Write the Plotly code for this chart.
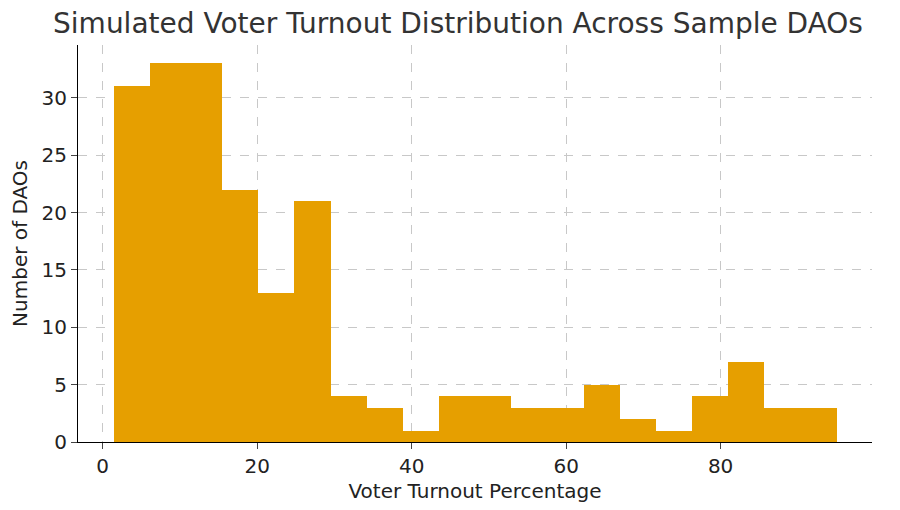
import plotly.graph_objects as go

counts = [31,33,33,22,13,21,4,3,1,4,4,3,3,5,2,1,4,7,3,3]
bin_start = 1.42
bin_width = 4.68
edges = [bin_start + i*bin_width for i in range(len(counts)+1)]
centers = [(edges[i]+edges[i+1])/2 for i in range(len(counts))]

fig = go.Figure(go.Bar(x=centers, y=counts, width=bin_width, marker_color="#E69F00",
                       marker_line_width=0))
fig.update_layout(
    width=900, height=510, plot_bgcolor="white", paper_bgcolor="white",
    margin=dict(l=68, r=36, t=37, b=76),
    title=dict(text="Simulated Voter Turnout Distribution Across Sample DAOs", x=0.5, y=0.99,
               yanchor="top", font=dict(size=28, color="#333333", family="DejaVu Sans")),
    font=dict(family="DejaVu Sans", size=20, color="#222222"),
    bargap=0, showlegend=False,
)
fig.update_xaxes(range=[-3.2, 99.6], tickvals=[0,20,40,60,80], showgrid=True,
                 gridcolor="#c8c8c8", griddash="dash", showline=True, linecolor="black",
                 ticks="outside", ticklen=6, zeroline=False,
                 title=dict(text="Voter Turnout Percentage", font=dict(size=20), standoff=6))
fig.update_yaxes(range=[0, 34.6], tickvals=[0,5,10,15,20,25,30], showgrid=True,
                 gridcolor="#c8c8c8", griddash="dash", showline=True, linecolor="black",
                 ticks="outside", ticklen=6, zeroline=False,
                 title=dict(text="Number of DAOs", font=dict(size=20), standoff=8))
fig.write_html("out.html")
